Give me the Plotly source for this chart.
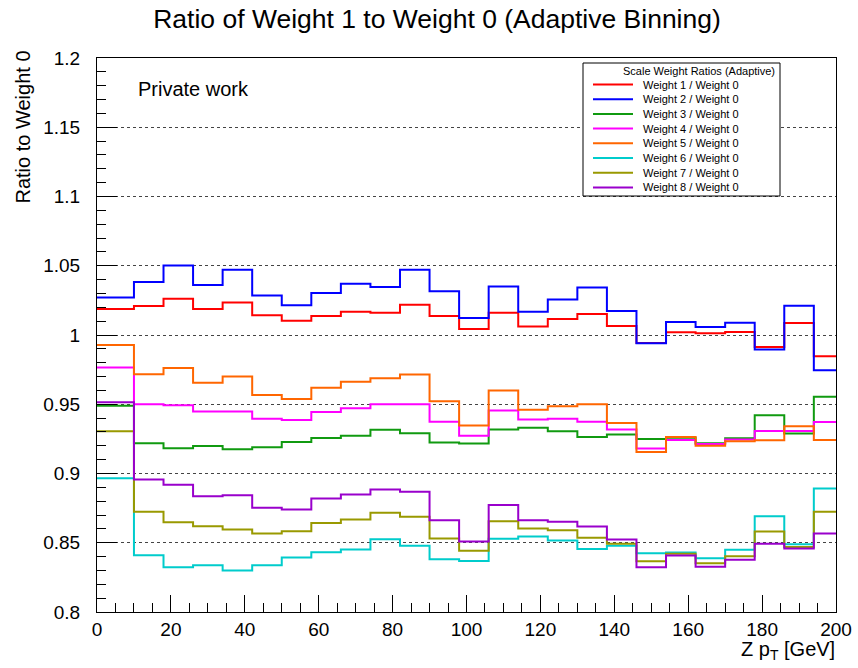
import plotly.graph_objects as go

# Z pT bin edges [GeV] (adaptive binning)
bin_edges = [0, 10, 18, 26, 34, 42, 50, 58, 66, 74, 82, 90, 98, 106, 114,
             122, 130, 138, 146, 154, 162, 170, 178, 186, 194, 200]

# Ratio of each scale weight to the nominal weight, per bin
ratio_w1 = [1.0188, 1.0209, 1.0262, 1.0188, 1.0235, 1.0142, 1.0103, 1.0137, 1.0168, 1.0161,
            1.0219, 1.0137, 1.0043, 1.0161, 1.0062, 1.0115, 1.0152, 1.0065, 0.9942, 1.0019,
            1.0012, 1.0022, 0.9913, 1.0087, 0.9846]
ratio_w2 = [1.0271, 1.0382, 1.0502, 1.0361, 1.0471, 1.0286, 1.0214, 1.0303, 1.0370, 1.0346,
            1.0471, 1.0315, 1.0123, 1.0351, 1.0168, 1.0257, 1.0343, 1.0173, 0.9940, 1.0094,
            1.0058, 1.0089, 0.9896, 1.0211, 0.9745]
ratio_w3 = [0.9490, 0.9218, 0.9182, 0.9199, 0.9175, 0.9189, 0.9228, 0.9257, 0.9273, 0.9315,
            0.9290, 0.9223, 0.9216, 0.9317, 0.9331, 0.9305, 0.9264, 0.9281, 0.9250, 0.9259,
            0.9218, 0.9254, 0.9420, 0.9288, 0.9555]
ratio_w4 = [0.9766, 0.9500, 0.9492, 0.9447, 0.9447, 0.9396, 0.9387, 0.9444, 0.9471, 0.9500,
            0.9500, 0.9374, 0.9273, 0.9454, 0.9389, 0.9396, 0.9374, 0.9317, 0.9180, 0.9242,
            0.9213, 0.9245, 0.9307, 0.9307, 0.9372]
ratio_w5 = [0.9928, 0.9716, 0.9762, 0.9656, 0.9701, 0.9567, 0.9538, 0.9620, 0.9663, 0.9687,
            0.9714, 0.9521, 0.9346, 0.9600, 0.9461, 0.9485, 0.9500, 0.9365, 0.9156, 0.9264,
            0.9201, 0.9232, 0.9240, 0.9341, 0.9242]
ratio_w6 = [0.8966, 0.8410, 0.8324, 0.8338, 0.8299, 0.8338, 0.8393, 0.8431, 0.8452, 0.8525,
            0.8478, 0.8381, 0.8369, 0.8528, 0.8545, 0.8516, 0.8455, 0.8478, 0.8424, 0.8429,
            0.8388, 0.8449, 0.8691, 0.8489, 0.8892]
ratio_w7 = [0.9305, 0.8723, 0.8648, 0.8619, 0.8595, 0.8566, 0.8583, 0.8643, 0.8668, 0.8716,
            0.8687, 0.8530, 0.8442, 0.8655, 0.8602, 0.8590, 0.8537, 0.8492, 0.8367, 0.8420,
            0.8352, 0.8403, 0.8581, 0.8470, 0.8723]
ratio_w8 = [0.9514, 0.8956, 0.8918, 0.8835, 0.8843, 0.8752, 0.8740, 0.8819, 0.8848, 0.8884,
            0.8869, 0.8662, 0.8509, 0.8773, 0.8662, 0.8651, 0.8617, 0.8523, 0.8323, 0.8408,
            0.8326, 0.8377, 0.8492, 0.8458, 0.8566]

series_names = ["Weight 1 / Weight 0", "Weight 2 / Weight 0", "Weight 3 / Weight 0",
                "Weight 4 / Weight 0", "Weight 5 / Weight 0", "Weight 6 / Weight 0",
                "Weight 7 / Weight 0", "Weight 8 / Weight 0"]
series_values = [ratio_w1, ratio_w2, ratio_w3, ratio_w4, ratio_w5, ratio_w6, ratio_w7, ratio_w8]
series_colors = ["#ff0000", "#0000ff", "#109a10", "#ff00ff",
                 "#ff6600", "#00cccc", "#999900", "#9900cc"]

x_ticks = [0, 20, 40, 60, 80, 100, 120, 140, 160, 180, 200]
y_ticks = [0.8, 0.85, 0.9, 0.95, 1.0, 1.05, 1.1, 1.15, 1.2]
y_tick_labels = ["0.8", "0.85", "0.9", "0.95", "1", "1.05", "1.1", "1.15", "1.2"]

FONT = "Liberation Sans, Arial, Helvetica, sans-serif"
W, H = 858, 668
L, R, T, B = 97, 22, 58, 56
PW, PH = W - L - R, H - T - B


def px_x(p):
    return (p - L) / PW


def px_y(p):
    return (H - B - p) / PH


fig = go.Figure()

for name, vals, col in zip(series_names, series_values, series_colors):
    fig.add_trace(go.Scatter(
        x=bin_edges, y=vals + [vals[-1]], mode="lines", name=name,
        line=dict(color=col, width=2, shape="hv"), showlegend=False,
    ))

shapes = []
annotations = []

# legend box
box_l, box_r, box_t, box_b = 583, 780, 63, 196
shapes.append(dict(type="rect", xref="paper", yref="paper",
                   x0=px_x(box_l), x1=px_x(box_r), y0=px_y(box_b), y1=px_y(box_t),
                   line=dict(color="black", width=1), fillcolor="white", layer="above"))
annotations.append(dict(xref="paper", yref="paper", x=px_x(699), y=px_y(70.5),
                        text="Scale Weight Ratios (Adaptive)", showarrow=False,
                        xanchor="center", yanchor="middle",
                        font=dict(family=FONT, size=11, color="black")))
for i, (name, col) in enumerate(zip(series_names, series_colors)):
    yy = 84.5 + i * 14.7
    shapes.append(dict(type="line", xref="paper", yref="paper",
                       x0=px_x(593), x1=px_x(633), y0=px_y(yy), y1=px_y(yy),
                       line=dict(color=col, width=2), layer="above"))
    annotations.append(dict(xref="paper", yref="paper", x=px_x(641), y=px_y(yy),
                            text=name, showarrow=False, xanchor="left", yanchor="middle",
                            font=dict(family=FONT, size=11, color="black")))

annotations.append(dict(xref="paper", yref="paper", x=px_x(136), y=px_y(88.5),
                        text="Private work", showarrow=False, xanchor="left",
                        yanchor="middle", font=dict(family=FONT, size=20, color="black")))
annotations.append(dict(xref="paper", yref="paper", x=px_x(837), y=px_y(636),
                        text="Z p<sub>T</sub> [GeV]", showarrow=False, xanchor="right",
                        yanchor="top", font=dict(family=FONT, size=20, color="black")))
annotations.append(dict(xref="paper", yref="paper", x=px_x(9), y=px_y(49),
                        text="Ratio to Weight 0", showarrow=False, textangle=-90,
                        xanchor="left", yanchor="top",
                        font=dict(family=FONT, size=20, color="black")))

fig.update_layout(
    width=W, height=H,
    margin=dict(l=L, r=R, t=T, b=B, pad=0, autoexpand=False),
    paper_bgcolor="white", plot_bgcolor="white",
    title=dict(text="Ratio of Weight 1 to Weight 0 (Adaptive Binning)",
               x=437 / W, xanchor="center", y=1 - 19 / H, yanchor="middle",
               font=dict(family=FONT, size=26.5, color="black")),
    font=dict(family=FONT, color="black"),
    shapes=shapes, annotations=annotations,
    xaxis=dict(range=[0, 200], tickvals=x_ticks, ticks="inside", ticklen=17,
               tickcolor="black", tickwidth=1, showline=True, linecolor="black",
               linewidth=1, mirror=True, showgrid=False, zeroline=False,
               automargin=False,
               tickfont=dict(family=FONT, size=19, color="black"),
               minor=dict(dtick=5, ticks="inside", ticklen=9, tickcolor="black",
                          showgrid=False)),
    yaxis=dict(range=[0.8, 1.2], tickvals=y_ticks, ticktext=y_tick_labels,
               ticks="inside", ticklen=20, tickcolor="black", tickwidth=1,
               showline=True, linecolor="black", linewidth=1, mirror=True,
               showgrid=True, gridcolor="#444444", gridwidth=1, griddash="dot",
               zeroline=False, ticklabelstandoff=12, automargin=False,
               tickfont=dict(family=FONT, size=19, color="black"),
               minor=dict(dtick=0.01, ticks="inside", ticklen=9, tickcolor="black",
                          showgrid=False)),
)

fig.write_html("out.html")
